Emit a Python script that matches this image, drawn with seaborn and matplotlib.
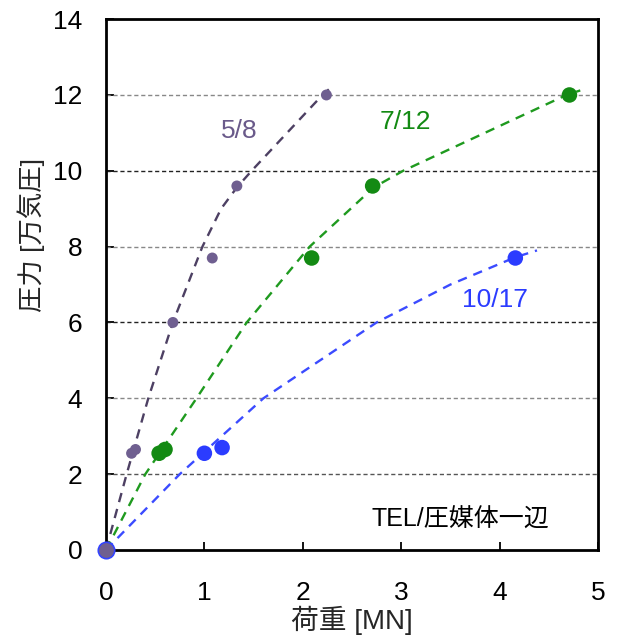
import numpy as np
import pandas as pd
import matplotlib
matplotlib.use("Agg")
import matplotlib.pyplot as plt
import seaborn as sns

x_58 = [0.0, 0.26, 0.30, 0.68, 1.08, 1.33, 2.24]
y_58 = [0.0, 2.55, 2.65, 6.0, 7.7, 9.6, 12.0]
x_712 = [0.0, 0.54, 0.60, 2.09, 2.71, 4.71]
y_712 = [0.0, 2.55, 2.65, 7.7, 9.6, 12.0]
x_1017 = [0.0, 1.0, 1.18, 4.16]
y_1017 = [0.0, 2.55, 2.7, 7.7]

# Dashed guide curves
cx_58 = [0.0, 0.21, 0.43, 0.68, 0.83, 0.98, 1.17, 1.33, 1.48, 2.2, 2.31]
cy_58 = [0.0, 2.0, 4.0, 6.0, 7.0, 8.0, 9.0, 9.56, 10.0, 12.0, 12.25]
cx_712 = [0.0, 0.40, 0.92, 1.43, 2.07, 2.72, 3.02, 3.85, 4.68, 4.82]
cy_712 = [0.0, 2.0, 4.0, 6.0, 8.0, 9.56, 10.0, 11.0, 12.0, 12.12]
cx_1017 = [0.0, 0.75, 1.6, 2.75, 3.5, 4.16, 4.38]
cy_1017 = [0.0, 2.0, 4.0, 6.0, 7.0, 7.72, 7.9]

series_names = ["5/8", "7/12", "10/17"]
x_ticks = [0, 1, 2, 3, 4, 5]
y_ticks = [0, 2, 4, 6, 8, 10, 12, 14]
xlabel = "荷重 [MN]"
ylabel = "圧力 [万気圧]"
note = "TEL/圧媒体一辺"

sns.set_theme(style="ticks")
plt.rcParams['font.family'] = ['Liberation Sans', 'Noto Sans CJK JP', 'DejaVu Sans']

fig = plt.figure(figsize=(6.18, 6.38), dpi=100)
ax = fig.add_axes([0.1715, 0.138, 0.7961, 0.832])

point_colors = ["#6f5f90", "#138a13", "#2b3cff"]
line_colors = ["#4d4063", "#1f9a1f", "#3b4bff"]
msizes = [62, 125, 125]

xs = [x_58, x_712, x_1017]
ys = [y_58, y_712, y_1017]
cxs = [cx_58, cx_712, cx_1017]
cys = [cy_58, cy_712, cy_1017]

grid_colors = {2: "#555555", 4: "#888888", 6: "#222222", 8: "#888888", 10: "#222222", 12: "#888888"}
for yv in y_ticks[1:-1]:
    ax.axhline(yv, color=grid_colors[yv], lw=1.0, ls=(0, (3, 2)), zorder=1)

for i, name in enumerate(series_names):
    curve = pd.DataFrame({"x": cxs[i], "y": cys[i]})
    sns.lineplot(data=curve, x="x", y="y", ax=ax, color=line_colors[i], lw=1.7,
                 sort=False, linestyle=(0, (4, 3)), zorder=2)
    df = pd.DataFrame({"x": xs[i], "y": ys[i]})
    sns.scatterplot(data=df.iloc[1:], x="x", y="y", ax=ax, color=point_colors[i],
                    s=msizes[i], edgecolor="none", zorder=3)

# origin point (shared by all series)
sns.scatterplot(x=[x_58[0]], y=[y_58[0]], ax=ax, color="#6f5f90", s=140,
                edgecolor="#3344ff", linewidth=1.2, zorder=4, clip_on=False)

ax.text(1.35, 11.04, series_names[0], color="#6a5a8a", fontsize=19, ha="center", va="center")
ax.text(3.04, 11.3, series_names[1], color="#138a13", fontsize=19, ha="center", va="center")
ax.text(3.95, 6.6, series_names[2], color="#2b3cff", fontsize=19, ha="center", va="center")
ax.text(3.6, 0.8, note, color="black", fontsize=18, ha="center", va="center")

ax.set_xlim(0, 5)
ax.set_ylim(0, 14)
ax.set_xticks(x_ticks)
ax.set_yticks(y_ticks)
ax.tick_params(direction="in", length=6, width=1.3, labelsize=19, colors="black")
ax.tick_params(axis="x", pad=22)
ax.tick_params(axis="y", pad=17)
ax.set_xlabel(xlabel, fontsize=20)
ax.set_ylabel(ylabel, fontsize=19)
ax.xaxis.set_label_coords(0.5, -0.106)
ax.yaxis.set_label_coords(-0.124, 0.593)
for s in ax.spines.values():
    s.set_linewidth(2.0)
    s.set_color("black")

fig.savefig("out.png", dpi=100)
